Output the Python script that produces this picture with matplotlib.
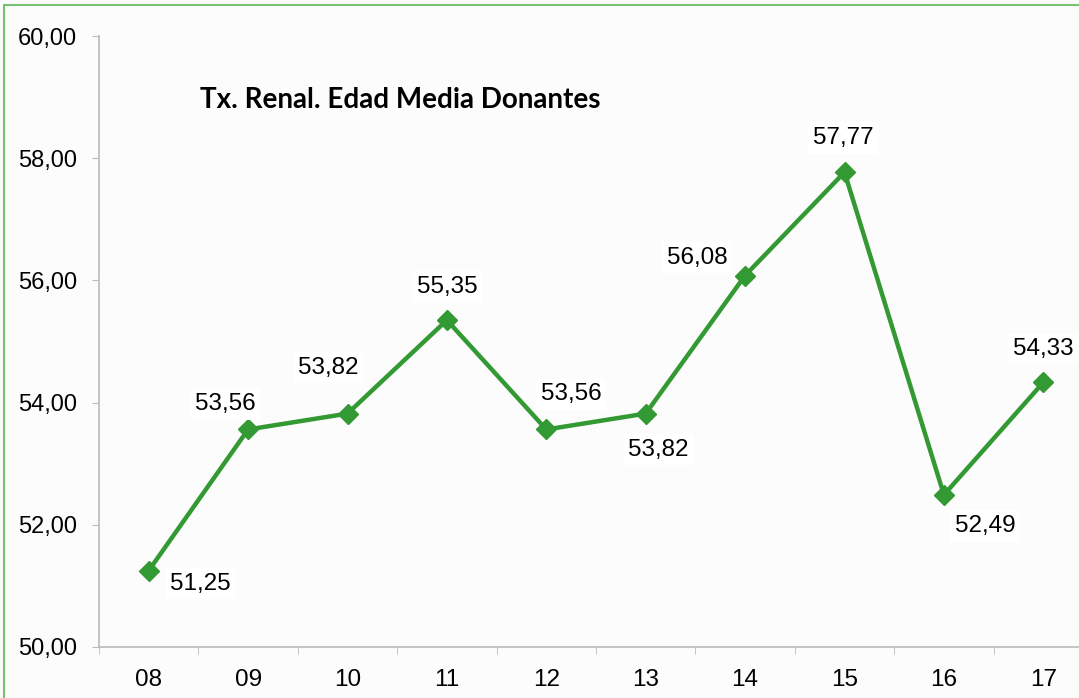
import matplotlib.pyplot as plt
from matplotlib.patches import Rectangle

years = ["08", "09", "10", "11", "12", "13", "14", "15", "16", "17"]
edad_media = [51.25, 53.56, 53.82, 55.35, 53.56, 53.82, 56.08, 57.77, 52.49, 54.33]

# label offsets in pixels (dx, dy) relative to each point
label_offsets = [(52, -13), (-23, 25), (-19, 46), (0, 33), (25, 35),
                 (13, -36), (-48, 18), (-1, 34), (41, -31), (0, 33)]

LINE_GREEN = "#339933"
FONT = "Liberation Sans"
FS = 17.5


def fmt(v):
    return f"{v:.2f}".replace(".", ",")


fig = plt.figure(figsize=(10.79, 6.98), dpi=100)
fig.patch.set_facecolor("#FCFCFC")
fig.patches.append(Rectangle((4 / 1079, -0.05), 1.2, 1.05 - 6 / 698 + 0.001,
                             transform=fig.transFigure, fill=False,
                             edgecolor="#77C36F", linewidth=1.5))

ax = fig.add_axes([99 / 1079, 51 / 698, 994 / 1079, 611 / 698])
ax.set_facecolor("none")

x = list(range(len(years)))
ax.plot(x, edad_media, color=LINE_GREEN, linewidth=3.2, marker="D",
        markersize=10, zorder=3)

for xi, v, (dx, dy) in zip(x, edad_media, label_offsets):
    ax.annotate(fmt(v), (xi, v), xytext=(dx, dy), textcoords="offset pixels",
                ha="center", va="center", fontsize=FS, family=FONT,
                bbox=dict(boxstyle="square,pad=0.2", fc="white", ec="none"),
                zorder=4)

ax.set_xlim(-0.5, len(years) - 0.5)
ax.set_ylim(50, 60)
ax.set_yticks([50, 52, 54, 56, 58, 60])
ax.set_yticklabels([fmt(v) for v in [50, 52, 54, 56, 58, 60]],
                   fontsize=17, family=FONT)
ax.set_xticks(x)
ax.set_xticklabels(years, fontsize=FS, family=FONT)
ax.set_xticks([i + 0.5 for i in range(-1, len(years))], minor=True)

ax.tick_params(axis="y", length=5, color="#BBBBBB", pad=11)
ax.tick_params(axis="x", which="major", length=0, pad=16)
ax.tick_params(axis="x", which="minor", length=5, color="#BBBBBB")

for side in ["top", "right"]:
    ax.spines[side].set_visible(False)
for side in ["left", "bottom"]:
    ax.spines[side].set_color("#BBBBBB")
    ax.spines[side].set_linewidth(1.2)

fig.text(200 / 1079, 1 - 100 / 698, "Tx. Renal. Edad Media Donantes",
         fontsize=20, fontweight="bold", family="Lato", va="center", ha="left")

fig.savefig("out.png", dpi=100, facecolor=fig.get_facecolor())
